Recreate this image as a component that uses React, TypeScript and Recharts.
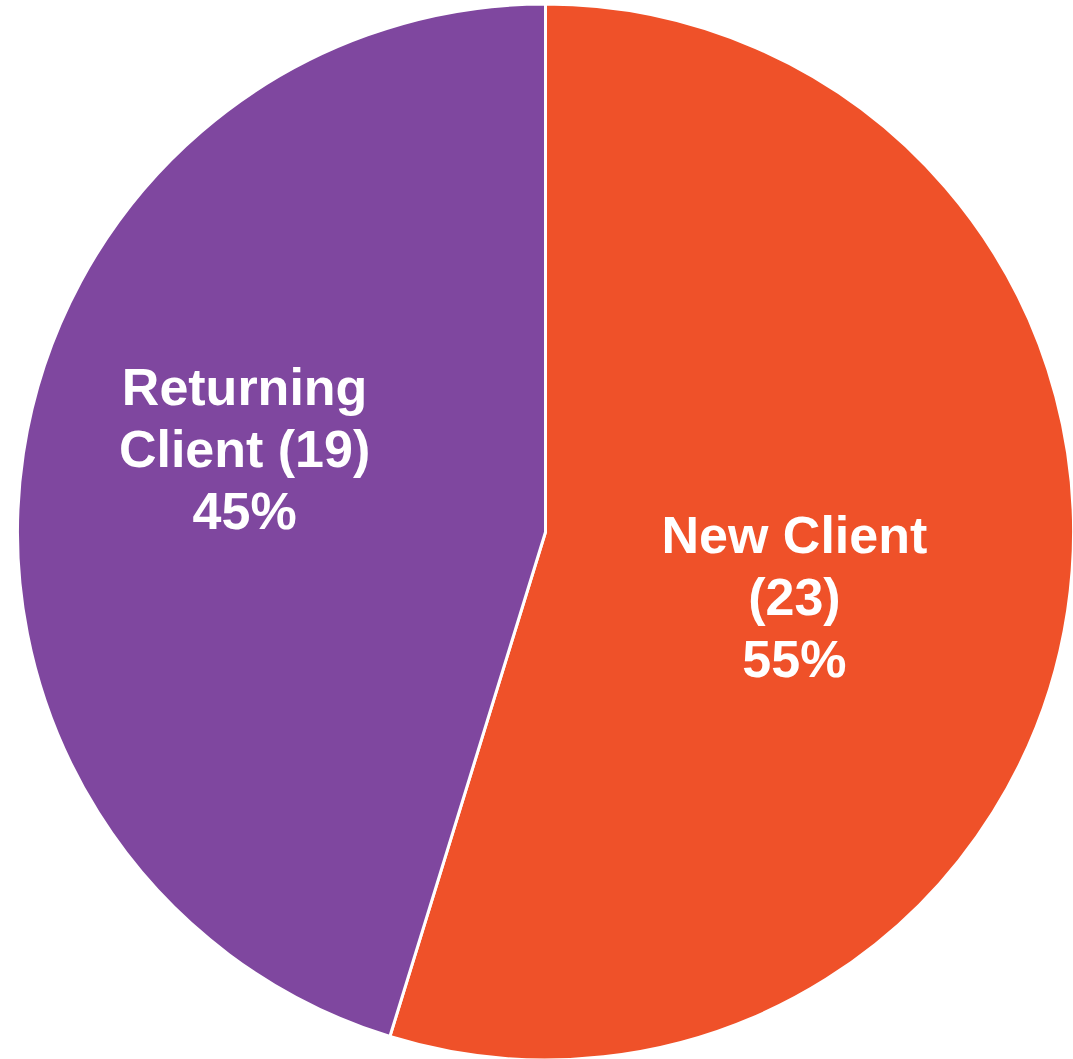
import React from 'react';
import { PieChart, Pie, Cell } from 'recharts';

const categories = ['New Client', 'Returning Client'];
const counts = [23, 19];
// how each category name is broken over lines inside its slice
const nameLines = [['New Client', ''], ['Returning', 'Client']];
const colors = ['#EF5129', '#7F479F'];

// label anchor (baseline of the middle line) relative to the slice
const labelPlace = [
  { radius: 0.497, shift: -9.9 },
  { radius: 0.583, shift: -3.6 },
];

const RADIAN = Math.PI / 180;

function SliceLabel(props: any) {
  const { cx, cy, midAngle, outerRadius, percent, index, value } = props;
  const place = labelPlace[index];
  const angle = midAngle + place.shift;
  const r = outerRadius * place.radius;
  const x = cx + r * Math.cos(-angle * RADIAN);
  const y = cy + r * Math.sin(-angle * RADIAN);

  const parts = nameLines[index];
  const last = parts[parts.length - 1];
  const lines = [
    ...parts.slice(0, -1),
    last ? `${last} (${value})` : `(${value})`,
    `${Math.round(percent * 100)}%`,
  ];
  const lineH = 62;

  return (
    <text
      x={x}
      y={y}
      fill='#ffffff'
      textAnchor='middle'
      fontFamily='"Liberation Sans", Arial, sans-serif'
      fontWeight='bold'
      fontSize={52}
    >
      {lines.map((line, i) => (
        <tspan key={`l-${i}`} x={x} y={y + (i - 1) * lineH}>
          {line}
        </tspan>
      ))}
    </text>
  );
}

export default function App() {
  const data = categories.map((name, i) => ({ name, value: counts[i] }));

  return (
    <div style={{ position: 'absolute', left: 0, top: 0, width: 1073, height: 1059, background: '#fff' }}>
      <PieChart width={1073} height={1059} margin={{ top: 0, right: 0, bottom: 0, left: 0 }}>
        <Pie
          data={data}
          dataKey='value'
          nameKey='name'
          cx={545.5}
          cy={532}
          outerRadius={528}
          innerRadius={0}
          startAngle={90}
          endAngle={-270}
          stroke='#ffffff'
          strokeWidth={3}
          label={SliceLabel}
          labelLine={false}
          isAnimationActive={false}
        >
          {data.map((entry, index) => (
            <Cell key={`cell-${index}`} fill={colors[index]} />
          ))}
        </Pie>
      </PieChart>
    </div>
  );
}
